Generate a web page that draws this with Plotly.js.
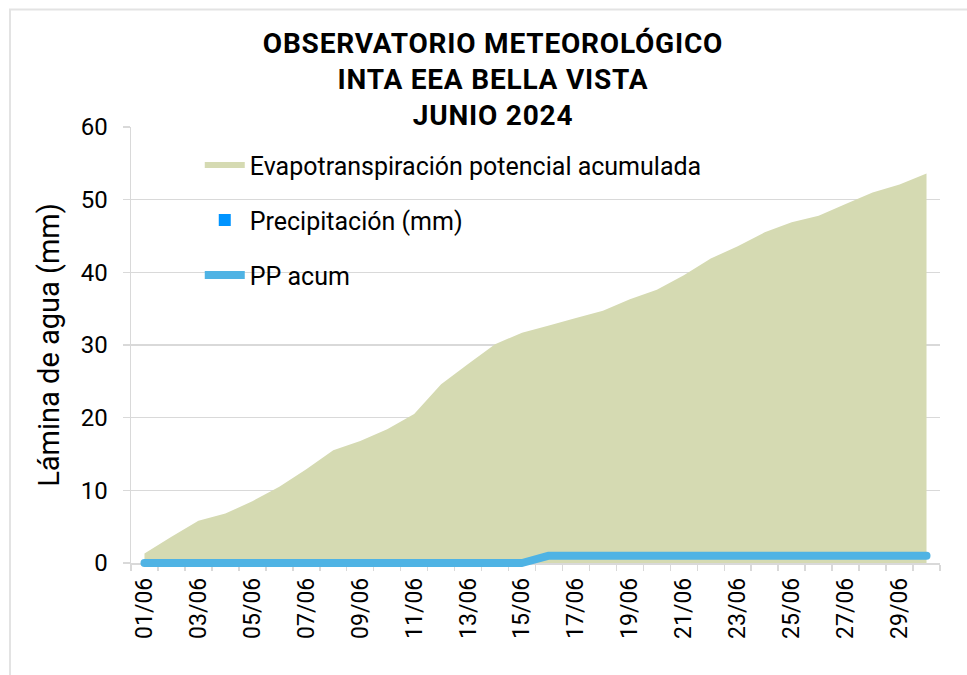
<!DOCTYPE html>
<html>
<head>
<meta charset="utf-8">
<script src="https://cdn.plot.ly/plotly-3.0.1.min.js"></script>
<style>
  html, body { margin: 0; padding: 0; background: #fff; }
  #chart { width: 967px; height: 675px; }
  #chart .gtitle { letter-spacing: 0.8px; }
</style>
</head>
<body>
<div id="chart"></div>
<script>
const dias = ["01/06","02/06","03/06","04/06","05/06","06/06","07/06","08/06","09/06","10/06",
              "11/06","12/06","13/06","14/06","15/06","16/06","17/06","18/06","19/06","20/06",
              "21/06","22/06","23/06","24/06","25/06","26/06","27/06","28/06","29/06","30/06"];
const etpAcum = [1.3, 3.6, 5.8, 6.8, 8.5, 10.5, 12.9, 15.5, 16.8, 18.4,
                 20.5, 24.6, 27.4, 30.1, 31.7, 32.7, 33.7, 34.7, 36.3, 37.6,
                 39.6, 41.9, 43.6, 45.5, 46.9, 47.8, 49.4, 51.0, 52.1, 53.6];
const precip = [0, 0, 0, 0, 0, 0, 0, 0, 0, 0,
                0, 0, 0, 0, 0, 1.0, 0, 0, 0, 0,
                0, 0, 0, 0, 0, 0, 0, 0, 0, 0];
const ppAcum = [0, 0, 0, 0, 0, 0, 0, 0, 0, 0,
                0, 0, 0, 0, 0, 1.0, 1.0, 1.0, 1.0, 1.0,
                1.0, 1.0, 1.0, 1.0, 1.0, 1.0, 1.0, 1.0, 1.0, 1.0];
const tickLabels = ["01/06","","03/06","","05/06","","07/06","","09/06","",
                    "11/06","","13/06","","15/06","","17/06","","19/06","",
                    "21/06","","23/06","","25/06","","27/06","","29/06",""];
const names = ["Evapotranspiración potencial acumulada", "Precipitación (mm)", "PP acum"];
const titleLines = ["OBSERVATORIO METEOROLÓGICO", "INTA EEA BELLA VISTA", "JUNIO 2024"];

const FONT = "Roboto, 'Noto Sans', sans-serif";
const grid = "#d9d9d9";

const traces = [
  {
    type: "scatter", x: dias, y: etpAcum, name: names[0],
    mode: "none", fill: "tozeroy", fillcolor: "#d5dab2",
    legendgroup: "a", xaxis: "x", yaxis: "y"
  },
  {
    type: "bar", x: dias, y: precip, name: names[1],
    marker: { color: "#0094ff", line: { width: 0 } },
    legendgroup: "b", xaxis: "x", yaxis: "y"
  },
  {
    type: "scatter", x: dias, y: ppAcum, name: names[2],
    mode: "lines", line: { color: "#4fb3e4", width: 8 },
    legendgroup: "c", xaxis: "x", yaxis: "y2"
  }
];

const layout = {
  width: 967, height: 675,
  paper_bgcolor: "#ffffff", plot_bgcolor: "#ffffff",
  margin: { l: 131, r: 27, t: 127, b: 112 },
  font: { family: FONT, color: "#000" },
  showlegend: true,
  bargap: 0.1,
  title: {
    text: "<b>" + titleLines.join("<br>") + "</b>",
    font: { family: FONT, size: 28, color: "#000" },
    x: (493 - 131) / 809, xanchor: "center", xref: "paper",
    y: 0.922, yanchor: "top", yref: "container"
  },
  xaxis: {
    type: "category",
    range: [-0.5, 29.5],
    tickmode: "array", tickvals: dias, ticktext: tickLabels,
    tickson: "boundaries",
    tickangle: -90,
    ticks: "outside", ticklen: 6, tickcolor: grid, tickwidth: 1.5,
    ticklabelstandoff: 4,
    showline: true, linecolor: grid, linewidth: 1.5,
    showgrid: false, zeroline: false,
    layer: "below traces",
    tickfont: { family: FONT, size: 23, color: "#000" },
    fixedrange: true
  },
  yaxis: {
    range: [0, 60], dtick: 10, tick0: 0,
    ticks: "outside", ticklen: 7, tickcolor: grid, tickwidth: 1.5,
    ticklabelstandoff: 10,
    showline: true, linecolor: grid, linewidth: 1.5,
    showgrid: true, gridcolor: grid, gridwidth: 1.5,
    zeroline: false,
    layer: "below traces",
    tickfont: { family: FONT, size: 24, color: "#000" },
    title: { text: "Lámina de agua (mm)", font: { family: FONT, size: 29, color: "#000" }, standoff: 12 },
    fixedrange: true
  },
  yaxis2: {
    range: [0, 60], overlaying: "y", visible: false, fixedrange: true
  },
  legend: {
    x: 0.085, xanchor: "left", y: 0.965, yanchor: "top",
    bgcolor: "rgba(0,0,0,0)",
    font: { family: FONT, size: 25, color: "#000" },
    itemwidth: 40,
    tracegroupgap: 19.5,
    traceorder: "grouped"
  },
  shapes: [{
    type: "rect", xref: "paper", yref: "paper",
    x0: (10 - 131) / 809, x1: 1.2, y0: -0.5, y1: (563 - 9.5) / 436,
    line: { color: "#e3e3e3", width: 2 }, fillcolor: "rgba(0,0,0,0)", layer: "below"
  }]
};

Plotly.newPlot("chart", traces, layout, { staticPlot: true, displayModeBar: false }).then(function (gd) {
  // let the thick PP acum line overflow the axis like the original (no clipping on its overlay subplot)
  gd.querySelectorAll(".overplot .xy2, .overplot .xy2 [clip-path]").forEach(function (el) {
    el.removeAttribute("clip-path");
  });
  gd.querySelectorAll(".overplot .xy2 path.js-line").forEach(function (el) {
    el.style.strokeLinecap = "round";
    el.style.strokeLinejoin = "round";
  });
});
</script>
</body>
</html>
